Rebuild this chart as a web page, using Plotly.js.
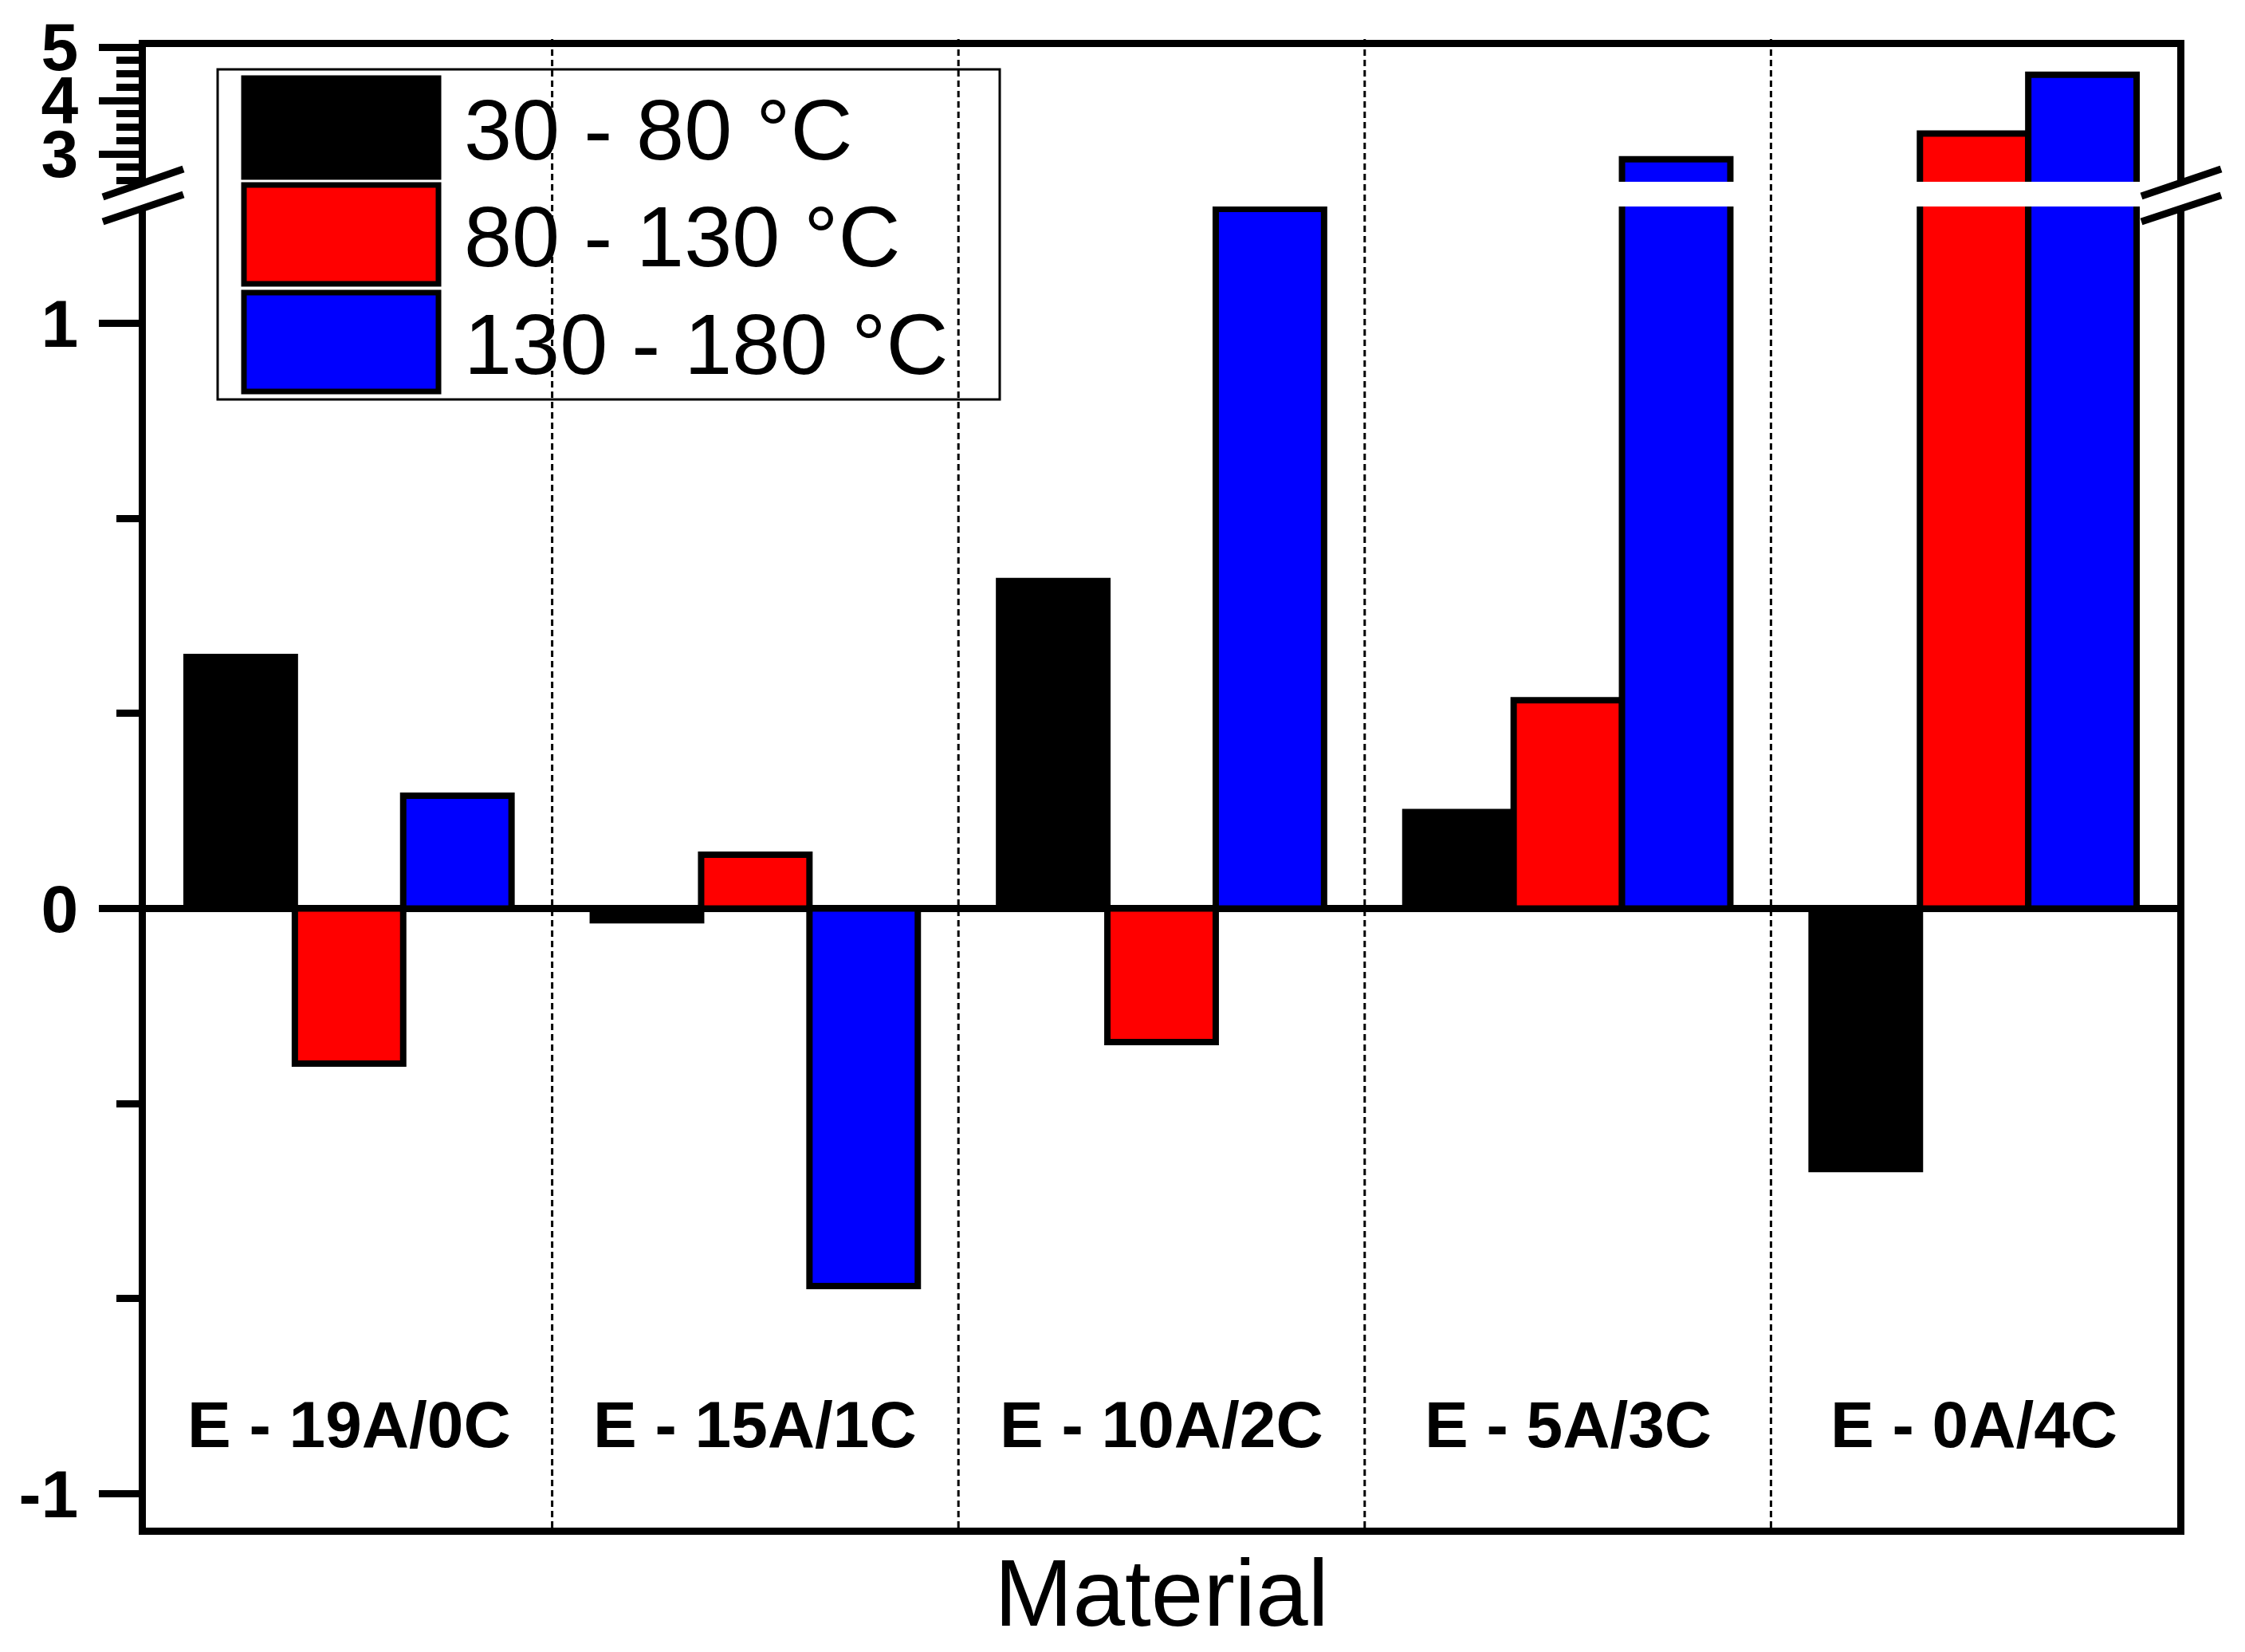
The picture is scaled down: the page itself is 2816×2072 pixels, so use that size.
<!DOCTYPE html>
<html>
<head>
<meta charset="utf-8">
<script src="https://cdn.plot.ly/plotly-3.0.1.min.js"></script>
<style>html,body{margin:0;padding:0;background:#fff;}</style>
</head>
<body>
<div id="chart" style="width:2816px;height:2072px;"></div>
<script>
// ---------- data ----------
const categories = ['E - 19A/0C', 'E - 15A/1C', 'E - 10A/2C', 'E - 5A/3C', 'E - 0A/4C'];
const seriesNames = ['30 - 80 °C', '80 - 130 °C', '130 - 180 °C'];
const seriesColors = ['#000000', '#ff0000', '#0000ff'];
const range30to80 = [0.43, -0.02, 0.56, 0.165, -0.445];
const range80to130 = [-0.265, 0.092, -0.228, 0.356, 3.38];
const range130to180 = [0.193, -0.645, 1.196, 2.9, 4.48];
const lowerTickVals = [-1, 0, 1];
const upperTickVals = [3, 4, 5];
const xTitle = 'Material';

const seriesValues = [range30to80, range80to130, range130to180];

// ---------- geometry ----------
const W = 2816, H = 2072;
const M = {l: 183, r: 85, t: 59, b: 156};
const PW = W - M.l - M.r, PH = H - M.t - M.b;
const px = x => (x - M.l) / PW;          // pixel -> paper x
const py = y => (H - M.b - y) / PH;      // pixel -> paper y

const FONT = 'Liberation Sans, Arial, sans-serif';
const LW = 9;

const traces = [];
seriesValues.forEach((vals, i) => {
  ['y', 'y2'].forEach((ya, k) => {
    traces.push({
      type: 'bar',
      name: seriesNames[i],
      x: categories,
      y: vals,
      xaxis: k === 0 ? 'x' : 'x2',
      yaxis: ya,
      marker: {color: seriesColors[i], line: {color: '#000', width: 8}},
      showlegend: false,
      hoverinfo: 'skip'
    });
  });
});

const shapes = [];
// dashed separators between categories
for (let i = 0; i < categories.length - 1; i++) {
  shapes.push({type: 'line', xref: 'x', yref: 'paper', x0: i + 0.5, x1: i + 0.5,
    y0: 0, y1: py(48), line: {color: '#000', width: 3, dash: '8px,5px'}});
}
// axis break marks
[[129, 247, 230, 212], [129, 278, 230, 244], [2686, 246, 2786, 212], [2686, 278, 2786, 245]].forEach(s => {
  shapes.push({type: 'line', xref: 'paper', yref: 'paper', x0: px(s[0]), y0: py(s[1]), x1: px(s[2]), y1: py(s[3]),
    line: {color: '#000', width: LW}});
});
// legend box
shapes.push({type: 'rect', xref: 'paper', yref: 'paper', x0: px(273), x1: px(1254), y0: py(87), y1: py(501),
  line: {color: '#000', width: 3}, fillcolor: 'rgba(0,0,0,0)'});
const annotations = [];
const rowTops = [98, 232, 367];
seriesNames.forEach((n, i) => {
  const t = rowTops[i];
  shapes.push({type: 'rect', xref: 'paper', yref: 'paper', x0: px(306), x1: px(550), y0: py(t), y1: py(t + 124),
    line: {color: '#000', width: 7}, fillcolor: seriesColors[i]});
  annotations.push({xref: 'paper', yref: 'paper', x: px(580), y: py(t + 64), xanchor: 'left', yanchor: 'middle',
    text: n, showarrow: false, font: {family: FONT, size: 108, color: '#000'}});
});
// category labels inside the plot
categories.forEach(c => {
  annotations.push({xref: 'x', yref: 'y', x: c, y: -0.882, text: c, showarrow: false,
    xanchor: 'center', yanchor: 'middle',
    font: {family: FONT, size: 82, color: '#000', weight: 'bold'}});
});

const tickFont = {family: FONT, size: 84, color: '#000', weight: 'bold'};
const lowerTop = py(259), upperBottom = py(228);

const layout = {
  width: W, height: H,
  margin: {l: M.l, r: M.r, t: M.t, b: M.b, pad: 0},
  paper_bgcolor: '#fff', plot_bgcolor: '#fff',
  showlegend: false,
  barmode: 'group', bargap: 0.2, bargroupgap: 0,
  font: {family: FONT, color: '#000'},
  xaxis: {
    type: 'category', categoryarray: categories, range: [-0.5, 4.5], anchor: 'y', domain: [0, 1],
    showline: true, linecolor: '#000', linewidth: LW, ticks: '', showticklabels: false, showgrid: false,
    zeroline: false, automargin: false,
    title: {text: xTitle, font: {family: FONT, size: 118, color: '#000'}, standoff: 36}
  },
  xaxis2: {
    type: 'category', matches: 'x', anchor: 'y2', side: 'top',
    showline: true, linecolor: '#000', linewidth: LW, ticks: '', showticklabels: false, showgrid: false,
    zeroline: false
  },
  yaxis: {
    domain: [0, lowerTop], range: [-1.058, 1.2], anchor: 'x',
    tickmode: 'array', tickvals: lowerTickVals, ticktext: lowerTickVals.map(String),
    ticks: 'outside', ticklen: 50, tickwidth: LW, tickcolor: '#000', tickfont: tickFont, ticklabelstandoff: 9,
    minor: {tickmode: 'linear', tick0: 0, dtick: 1 / 3, ticks: 'outside', ticklen: 28, tickwidth: LW, tickcolor: '#000', showgrid: false},
    showline: true, mirror: true, linecolor: '#000', linewidth: LW,
    showgrid: false, zeroline: true, zerolinecolor: '#000', zerolinewidth: LW, automargin: false
  },
  yaxis2: {
    domain: [upperBottom, 1], range: [2.478, 5], anchor: 'x2',
    tickmode: 'array', tickvals: upperTickVals, ticktext: upperTickVals.map(String),
    ticks: 'outside', ticklen: 50, tickwidth: LW, tickcolor: '#000', tickfont: tickFont, ticklabelstandoff: 9,
    minor: {tickmode: 'linear', tick0: 0, dtick: 0.25, ticks: 'outside', ticklen: 28, tickwidth: LW, tickcolor: '#000', showgrid: false},
    showline: true, mirror: true, linecolor: '#000', linewidth: LW,
    showgrid: false, zeroline: false, automargin: false
  },
  shapes: shapes,
  annotations: annotations
};

Plotly.newPlot('chart', traces, layout, {staticPlot: true, displayModeBar: false});
</script>
</body>
</html>
